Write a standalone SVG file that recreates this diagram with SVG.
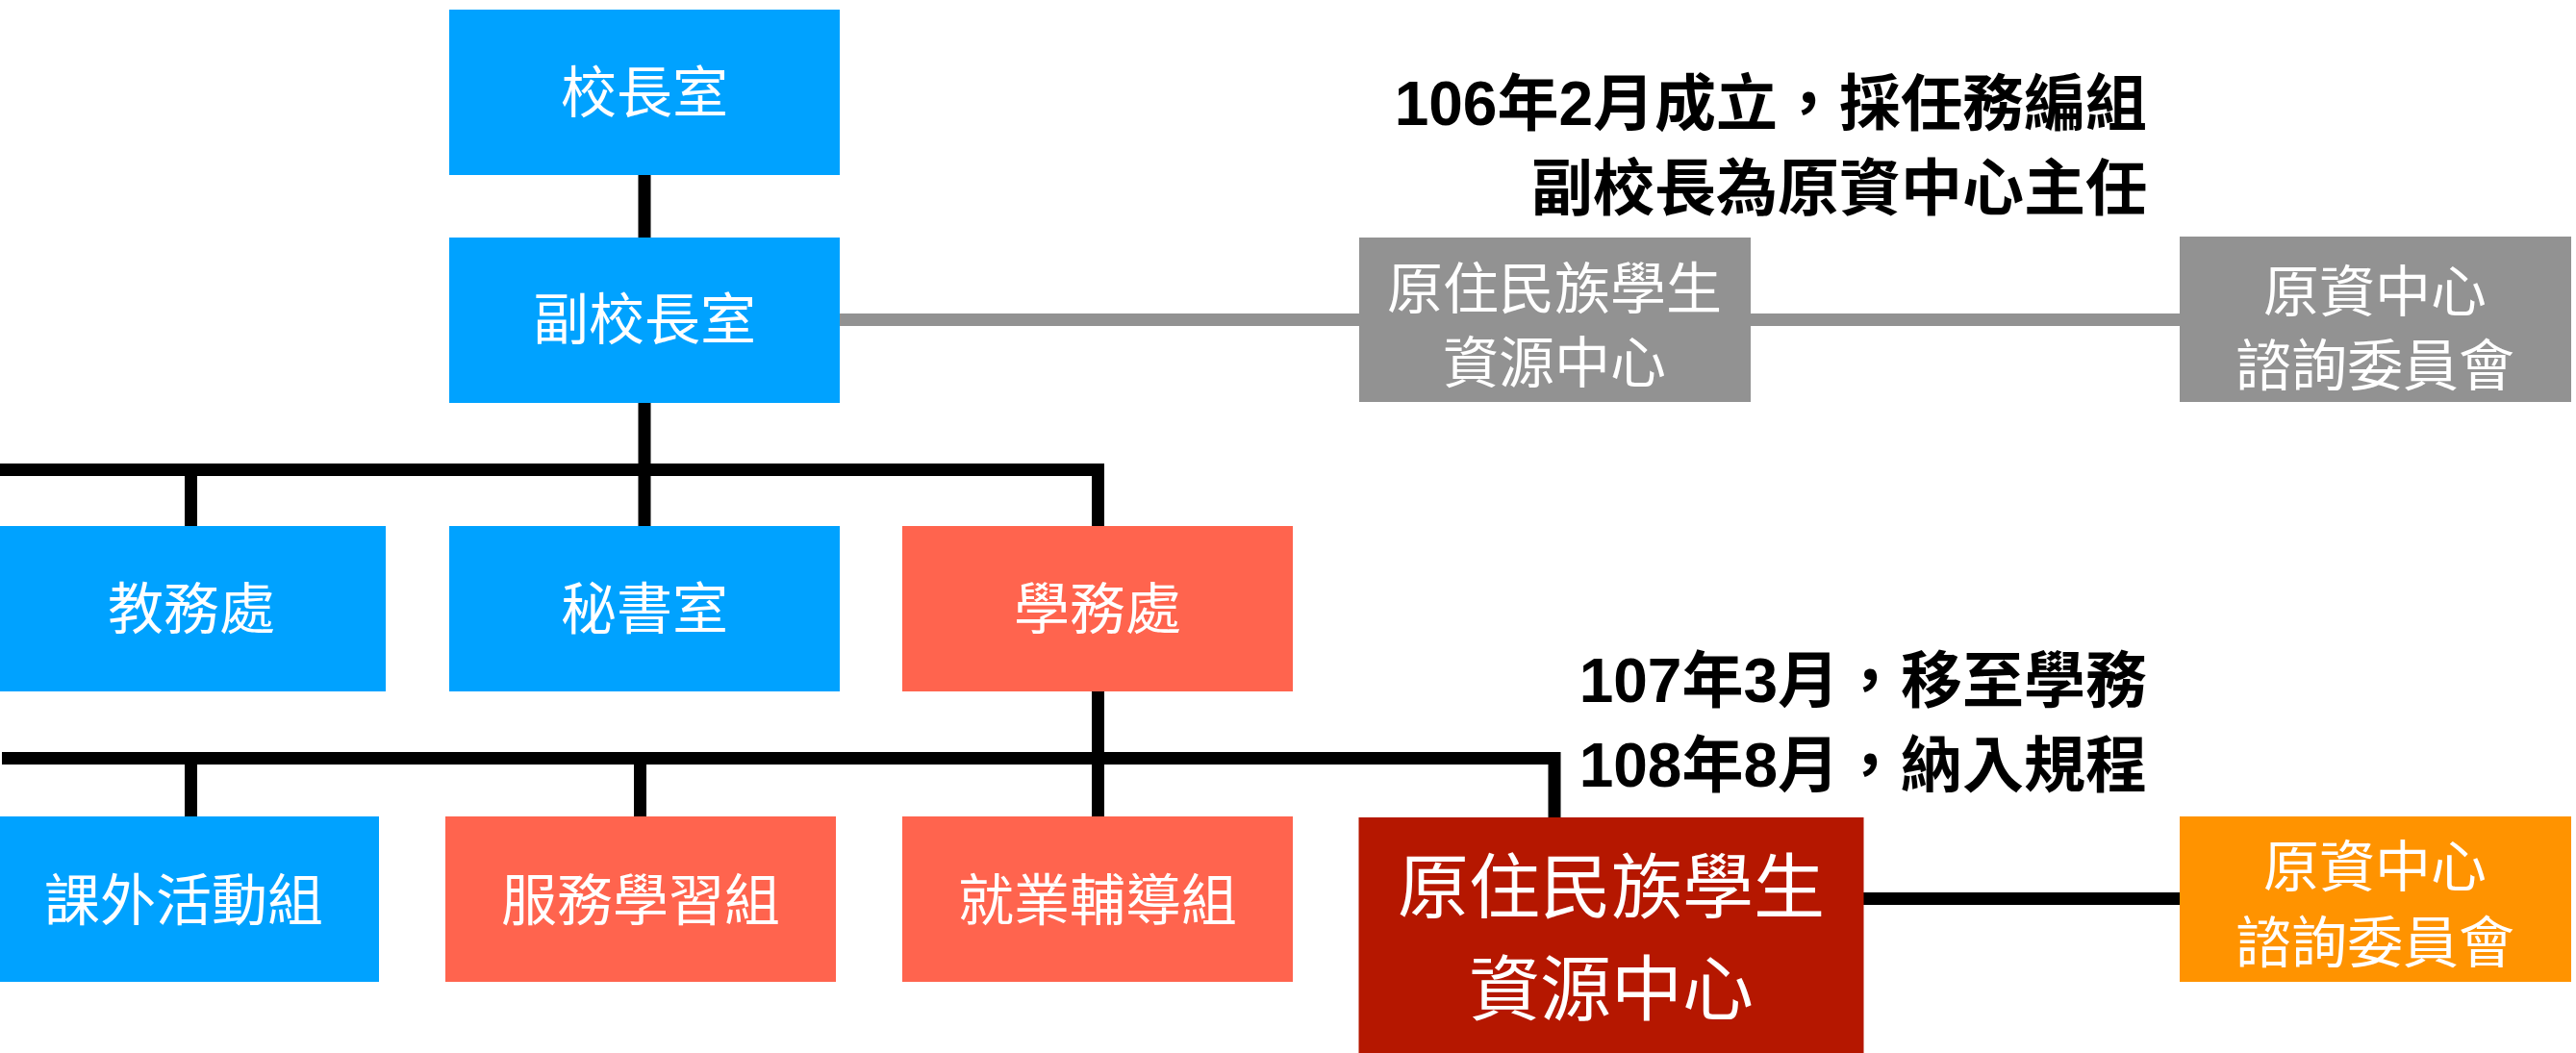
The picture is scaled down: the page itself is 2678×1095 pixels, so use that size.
<svg xmlns="http://www.w3.org/2000/svg" width="2678" height="1095" viewBox="0 0 2678 1095">
<style>
.blue{fill:#00A2FF}
.salmon{fill:#FF644E}
.dark{fill:#B51700}
.orange{fill:#FF9300}
.gray{fill:#929292}
.lbl{font-family:"Noto Sans CJK TC","Noto Sans CJK SC",sans-serif;fill:#FFFFFF;text-anchor:middle;font-size:58px}
.big{font-size:74px}
.note{font-family:"Liberation Sans","Noto Sans CJK TC",sans-serif;font-weight:bold;font-size:64px;fill:#000000;text-anchor:end}
.ln{stroke:#000000;stroke-width:13;fill:none}
.gl{stroke:#929292;stroke-width:13;fill:none}
</style>
<rect x="0" y="0" width="2678" height="1095" fill="#FFFFFF"/>
<g id="connectors">
<line class="gl" x1="873" y1="332.5" x2="2266" y2="332.5"/>
<line class="ln" x1="670" y1="182" x2="670" y2="247"/>
<line class="ln" x1="670" y1="419" x2="670" y2="482"/>
<polyline class="ln" points="0,488.5 1141.5,488.5 1141.5,547"/>
<line class="ln" x1="198.5" y1="495" x2="198.5" y2="547"/>
<line class="ln" x1="670" y1="495" x2="670" y2="547"/>
<line class="ln" x1="1141.5" y1="719" x2="1141.5" y2="849"/>
<polyline class="ln" points="2,788.5 1616,788.5 1616,850"/>
<line class="ln" x1="198.5" y1="795" x2="198.5" y2="849"/>
<line class="ln" x1="665.5" y1="795" x2="665.5" y2="849"/>
<line class="ln" x1="1937" y1="934.5" x2="2266" y2="934.5"/>
</g>
<g id="node-principal">
<rect class="blue" x="467" y="10" width="406" height="172"/>
<text class="lbl" x="670" y="117">校長室</text>
</g>
<g id="node-vice-principal">
<rect class="blue" x="467" y="247" width="406" height="172"/>
<text class="lbl" x="670" y="353">副校長室</text>
</g>
<g id="node-center-old">
<rect class="gray" x="1413" y="247" width="407" height="171"/>
<text class="lbl" x="1616" y="321">原住民族學生</text>
<text class="lbl" x="1616" y="398">資源中心</text>
</g>
<g id="node-committee-old">
<rect class="gray" x="2266" y="246" width="407" height="172"/>
<text class="lbl" x="2469" y="324">原資中心</text>
<text class="lbl" x="2469" y="401">諮詢委員會</text>
</g>
<g id="note-1">
<text class="note" x="2232" y="130">106年2月成立，採任務編組</text>
<text class="note" x="2232" y="218">副校長為原資中心主任</text>
</g>
<g id="node-academic">
<rect class="blue" x="0" y="547" width="401" height="172"/>
<text class="lbl" x="199" y="654">教務處</text>
</g>
<g id="node-secretariat">
<rect class="blue" x="467" y="547" width="406" height="172"/>
<text class="lbl" x="670" y="654">秘書室</text>
</g>
<g id="node-student-affairs">
<rect class="salmon" x="938" y="547" width="406" height="172"/>
<text class="lbl" x="1141" y="654">學務處</text>
</g>
<g id="note-2">
<text class="note" x="2232" y="730">107年3月，移至學務</text>
<text class="note" x="2232" y="818">108年8月，納入規程</text>
</g>
<g id="node-extracurricular">
<rect class="blue" x="0" y="849" width="394" height="172"/>
<text class="lbl" x="191" y="957">課外活動組</text>
</g>
<g id="node-service-learning">
<rect class="salmon" x="463" y="849" width="406" height="172"/>
<text class="lbl" x="666" y="957">服務學習組</text>
</g>
<g id="node-career">
<rect class="salmon" x="938" y="849" width="406" height="172"/>
<text class="lbl" x="1141" y="957">就業輔導組</text>
</g>
<g id="node-center">
<rect class="dark" x="1412.5" y="850" width="525" height="250"/>
<text class="lbl big" x="1675" y="949">原住民族學生</text>
<text class="lbl big" x="1675" y="1055">資源中心</text>
</g>
<g id="node-committee">
<rect class="orange" x="2266" y="849" width="407" height="172"/>
<text class="lbl" x="2469" y="922">原資中心</text>
<text class="lbl" x="2469" y="1001">諮詢委員會</text>
</g>
</svg>
